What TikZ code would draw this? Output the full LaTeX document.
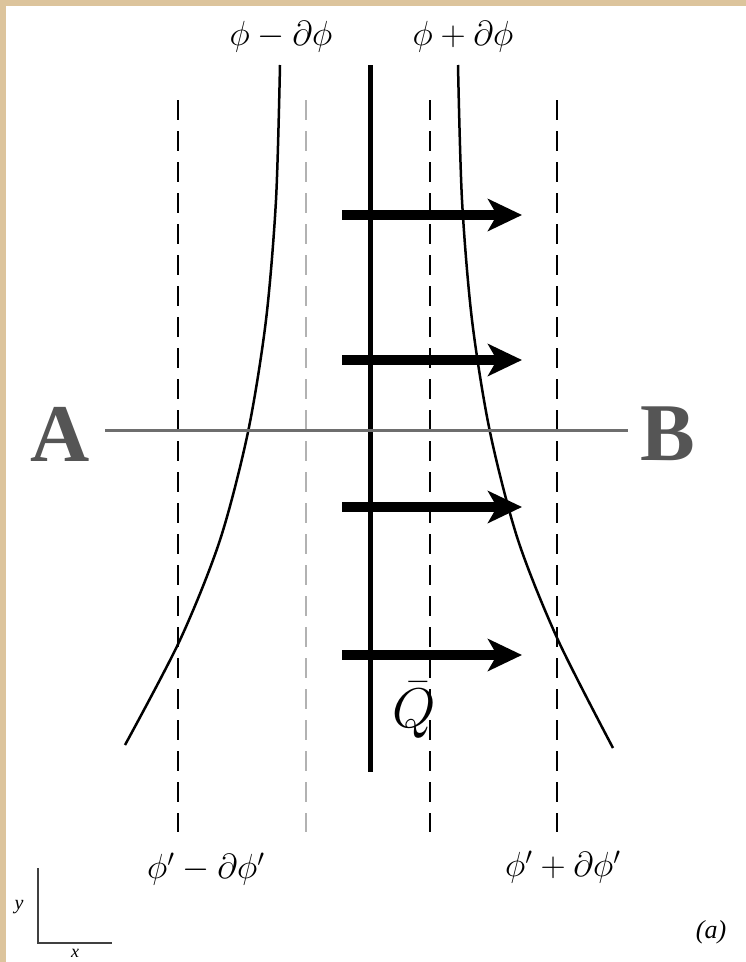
\documentclass[tikz,border=0pt]{standalone}
\usepackage{fontspec}
\setmainfont{Liberation Serif}
\usetikzlibrary{arrows.meta}
\definecolor{frame}{HTML}{DCC49C}
\definecolor{abgray}{HTML}{6E6E6E}
\definecolor{lbl}{HTML}{555555}
\tikzset{
  dline/.style={line width=1.8pt, dash pattern=on 20pt off 11pt},
  gline/.style={dline, draw=black!30},
  flux/.style={line width=10pt, -{Stealth[length=34pt,width=32pt,inset=9pt]}},
  curv/.style={line width=2.5pt},
  sm/.style={font=\fontsize{24}{26}\selectfont, inner sep=0pt},
}
\newcommand{\mylbl}[1]{\scalebox{1.4}{$#1$}}
\begin{document}
\begin{tikzpicture}[x=1pt,y=-1pt]
\useasboundingbox (0,0) rectangle (746,962);
\fill[frame] (0,0) rectangle (746,962);
\fill[white] (6,6) rectangle (746,962);
% dashed verticals
\coordinate (d1t) at (178,100); \coordinate (d1b) at (178,832);
\coordinate (d2t) at (306,100); \coordinate (d2b) at (306,832);
\coordinate (d3t) at (430,100); \coordinate (d3b) at (430,832);
\coordinate (d4t) at (557,100); \coordinate (d4b) at (557,832);
\draw[dline] (d1t) -- (d1b);
\draw[gline] (d2t) -- (d2b);
\draw[dline] (d3t) -- (d3b);
\draw[dline] (d4t) -- (d4b);
% curves
\draw[curv] plot[smooth] coordinates {(280,65) (276,200) (266,320) (248,432) (220,540) (180,640) (125,745)};
\draw[curv] plot[smooth] coordinates {(458,65) (462,200) (472,320) (490,432) (518,540) (558,640) (613,748)};
% central line
\coordinate (ct) at (370,65); \coordinate (cb) at (370,772);
\draw[line width=5pt] (ct) -- (cb);
% AB line
\node[font=\fontsize{82}{82}\selectfont\bfseries, text=lbl, inner sep=0pt] (A) at (60,434) {A};
\node[font=\fontsize{82}{82}\selectfont\bfseries, text=lbl, inner sep=0pt] (B) at (668,434) {B};
\draw[abgray, line width=3pt] (105,430) -- (628,430);
% flux arrows
\foreach \yy/\n in {215/1,360/2,507/3,655/4}{
  \coordinate (s\n) at (342,\yy); \coordinate (e\n) at (522,\yy);
  \draw[flux] (s\n) -- (e\n);
}
\node[font=\fontsize{24}{24}\selectfont, inner sep=0pt] (Q) at (414,710) {\scalebox{2.25}{$\bar{Q}$}};
% labels
\node[sm] (lt1) at (281,37) {\mylbl{\phi-\partial\phi}};
\node[sm] (lt2) at (463,37) {\mylbl{\phi+\partial\phi}};
\node[sm] (lb1) at (206,869) {\mylbl{\phi'-\partial\phi'}};
\node[sm] (lb2) at (563,867) {\mylbl{\phi'+\partial\phi'}};
\node[sm, font=\fontsize{26}{28}\selectfont\itshape] (lab) at (711,932) {(a)};
% axes
\coordinate (ay) at (38,868); \coordinate (ao) at (38,943); \coordinate (ax) at (112,943);
\draw[black!75, line width=1.8pt] (ay) -- (ao) -- (ax);
\node[sm, font=\fontsize{20}{20}\selectfont\itshape] (ylab) at (19,907) {y};
\node[sm, font=\fontsize{18}{18}\selectfont\itshape] (xlab) at (75,953) {x};
\end{tikzpicture}
\end{document}
